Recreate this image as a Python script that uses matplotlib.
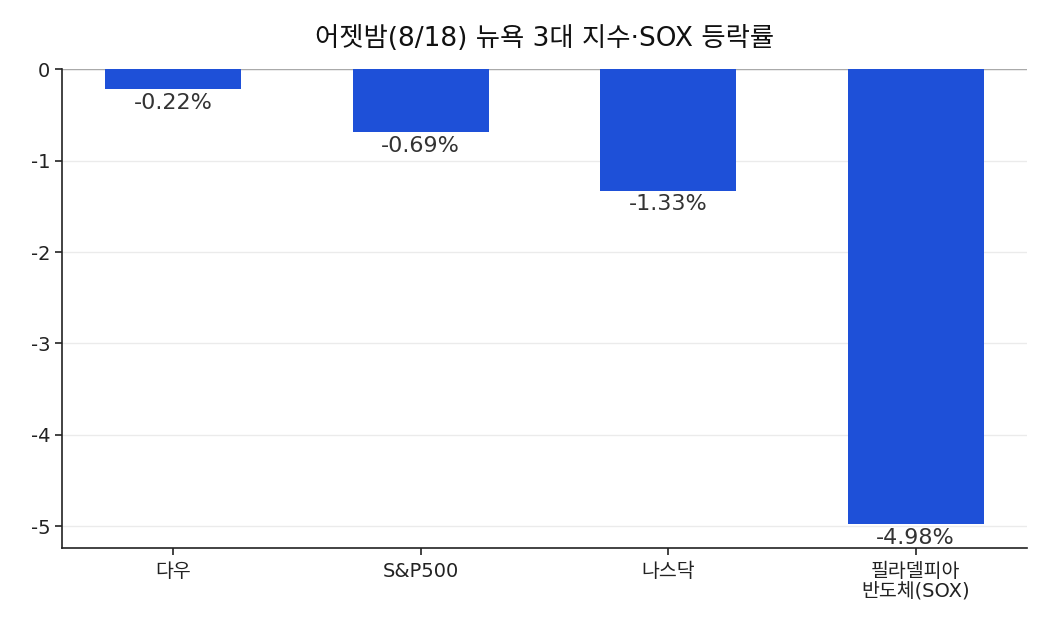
import matplotlib
matplotlib.use('Agg')
import matplotlib.pyplot as plt

plt.rcParams['font.family'] = ['DejaVu Sans', 'Noto Sans CJK KR']

# Data
categories = ['다우', 'S&P500', '나스닥', '필라델피아\n반도체(SOX)']
changes = [-0.22, -0.69, -1.33, -4.98]
title = '어젯밤(8/18) 뉴욕 3대 지수·SOX 등락률'

fig, ax = plt.subplots(figsize=(10.5, 6.3), dpi=100)
fig.subplots_adjust(left=0.059, right=0.978, top=0.89, bottom=0.13)

x = range(len(categories))
bars = ax.bar(x, changes, width=0.55, color='#1E50D8', zorder=3)

# value labels just under each bar
for xi, v in zip(x, changes):
    ax.annotate(f'{v:.2f}%', (xi, v), xytext=(0, -2.5), textcoords='offset points',
                ha='center', va='top', fontsize=16, color='#333333', zorder=4)

ax.set_xticks(list(x))
ax.set_xticklabels(categories, fontsize=14, linespacing=1.05)
ax.set_xlim(-0.45, 3.45)
ax.set_ylim(-5.24, 0)
ax.set_yticks([0, -1, -2, -3, -4, -5])
ax.set_yticklabels(['0', '-1', '-2', '-3', '-4', '-5'], fontsize=14)

ax.grid(axis='y', color='#ebebeb', linewidth=1, zorder=0)
ax.axhline(0, color='#aaaaaa', linewidth=1, zorder=2)

ax.spines['top'].set_visible(False)
ax.spines['right'].set_visible(False)
ax.spines['left'].set_color('#222222')
ax.spines['bottom'].set_color('#222222')
ax.spines['left'].set_linewidth(1.2)
ax.spines['bottom'].set_linewidth(1.2)
ax.tick_params(axis='both', colors='#222222', length=5, width=1.2)
ax.tick_params(axis='x', pad=5)

ax.set_title(title, fontsize=19, pad=17, color='#111111')

plt.savefig('out.png', dpi=100)
